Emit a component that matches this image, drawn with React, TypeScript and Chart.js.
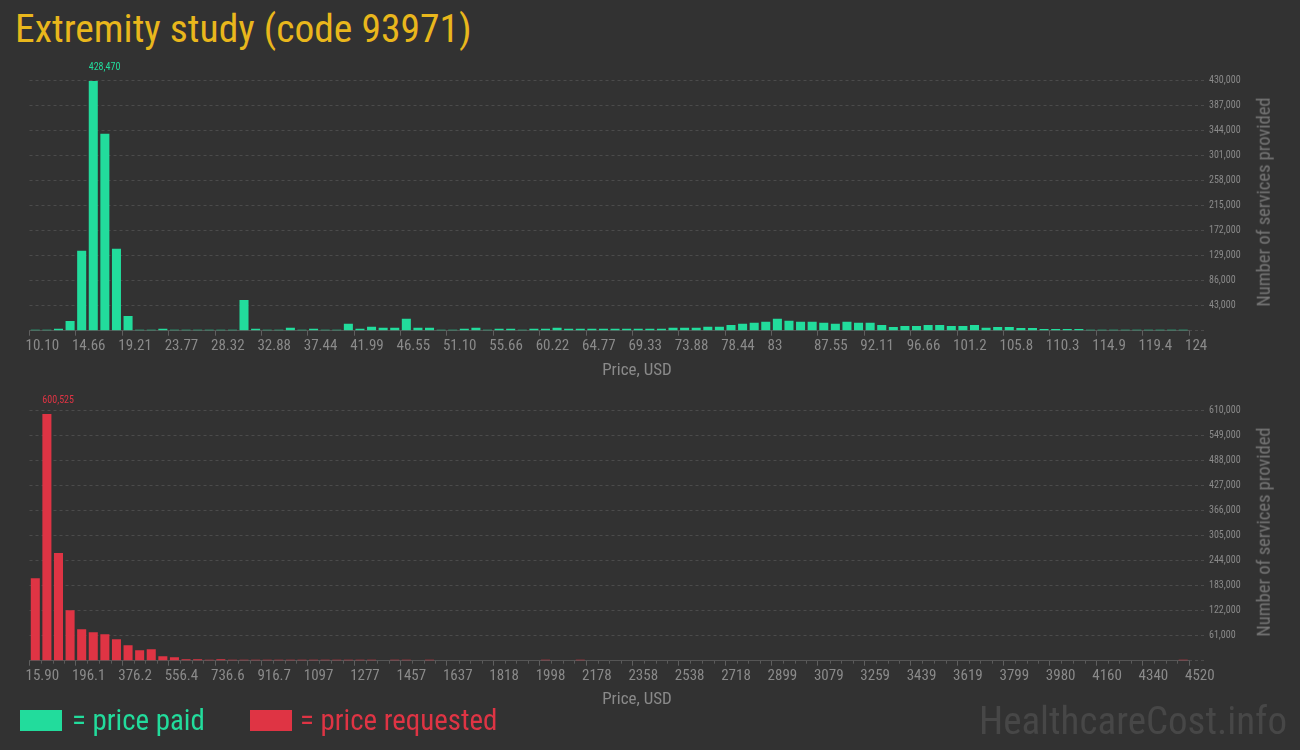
import React, { useEffect, useRef } from 'react';
import { Chart, registerables } from 'chart.js';

Chart.register(...registerables);

// ---------- DATA ----------
const paidTickLabels = [
  '10.10', '14.66', '19.21', '23.77', '28.32', '32.88', '37.44', '41.99', '46.55',
  '51.10', '55.66', '60.22', '64.77', '69.33', '73.88', '78.44', '83', '87.55',
  '92.11', '96.66', '101.2', '105.8', '110.3', '114.9', '119.4', '124',
];

const paidCounts = [
  1700, 1700, 3400, 16700, 137000, 428470, 338000, 140500, 25200, 1700,
  1700, 3400, 1700, 1700, 1700, 1700, 1700, 1700, 52800, 3400,
  1700, 1700, 5200, 1700, 3400, 1700, 1700, 12000, 3400, 6900,
  5200, 5200, 20600, 5200, 5200, 1700, 1700, 3400, 5200, 1700,
  3400, 3400, 1700, 3400, 3400, 5200, 3400, 3400, 3400, 3400,
  3400, 3400, 3400, 3400, 3400, 5200, 5200, 5200, 6900, 6900,
  9700, 12000, 13800, 15500, 20600, 17200, 15500, 15500, 13800, 12000,
  15500, 13800, 13800, 9700, 6300, 8000, 8000, 9700, 9700, 8000,
  8000, 9700, 5200, 6300, 6300, 4600, 4600, 2900, 2900, 2900,
  2900, 1700, 1700, 1700, 1700, 1700, 1700, 1700, 1700, 1700,
];

const requestedTickLabels = [
  '15.90', '196.1', '376.2', '556.4', '736.6', '916.7', '1097', '1277', '1457',
  '1637', '1818', '1998', '2178', '2358', '2538', '2718', '2899', '3079',
  '3259', '3439', '3619', '3799', '3980', '4160', '4340', '4520',
];

const requestedCounts = [
  200900, 600525, 261900, 122800, 76500, 69100, 64200, 52000, 37400, 25200,
  27700, 10600, 8100, 3300, 3300, 2400, 3300, 2400, 2400, 2400,
  2400, 2400, 2400, 2400, 2400, 2400, 2400, 2400, 2400, 2400,
  0, 2400, 2400, 0, 2400, 0, 0, 0, 0, 0,
  0, 0, 0, 0, 2400, 0, 0, 2400, 0, 0,
  0, 0, 0, 0, 0, 0, 0, 0, 0, 0,
  0, 0, 0, 0, 0, 0, 0, 0, 0, 0,
  0, 0, 0, 0, 0, 0, 0, 0, 0, 0,
  0, 0, 0, 0, 0, 0, 0, 0, 0, 0,
  0, 0, 0, 0, 0, 0, 0, 0, 0, 2400,
];

const paidYMax = 430000;
const paidYStep = 43000;
const requestedYMax = 610000;
const requestedYStep = 61000;

const titleText = 'Extremity study (code 93971)';
const xTitleText = 'Price, USD';
const yTitleText = 'Number of services provided';
const legendPaid = '= price paid';
const legendRequested = '= price requested';
const watermarkText = 'HealthcareCost.info';

// ---------- STYLE ----------
const BG = '#323232';
const GREEN = '#22dc9c';
const RED = '#df3444';
const GRID = '#4b4b4b';
const TEXT_GREY = '#8a8a8a';
const COND = "'Roboto Condensed', 'Liberation Sans Narrow', 'DejaVu Sans Condensed', 'Open Sans', sans-serif";

const TICKS_PER_LABEL = 4;

const fmt = (v: number) => v.toLocaleString('en-US');

const maxLabelPlugin = {
  id: 'maxLabel',
  afterDatasetsDraw(chart: any, _args: any, opts: any) {
    const ds = chart.data.datasets[0];
    const values = ds.data.map((d: any) => d.y);
    let mi = 0;
    values.forEach((v: number, i: number) => { if (v > values[mi]) mi = i; });
    const meta = chart.getDatasetMeta(0);
    const bar = meta.data[mi];
    if (!bar) return;
    const { ctx } = chart;
    ctx.save();
    ctx.font = `10px ${COND}`;
    ctx.fillStyle = opts.color;
    ctx.textAlign = 'left';
    ctx.textBaseline = 'middle';
    ctx.fillText(fmt(values[mi]), bar.x - bar.width / 2, bar.y - 13);
    ctx.restore();
  },
};

const minorTickPlugin = {
  id: 'minorTicks',
  afterDraw(chart: any, _args: any, opts: any) {
    if (!opts.enabled) return;
    const xs = chart.scales.x;
    const { ctx } = chart;
    const y0 = chart.chartArea.bottom;
    ctx.save();
    ctx.strokeStyle = '#5a5a5a';
    ctx.lineWidth = 1;
    ctx.beginPath();
    for (let i = Math.ceil(xs.min); i <= xs.max; i++) {
      if (i % TICKS_PER_LABEL === 0) continue;
      const px = Math.round(xs.getPixelForValue(i)) + 0.5;
      ctx.moveTo(px, y0);
      ctx.lineTo(px, y0 + 3);
    }
    ctx.stroke();
    ctx.restore();
  },
};

type PanelProps = {
  counts: number[];
  tickLabels: string[];
  yMax: number;
  yStep: number;
  color: string;
  top: number;
  height: number;
  minor: boolean;
};

const WIDTH = 1300;
const PLOT_LEFT = 29.5;
const PLOT_RIGHT = 1189;

function Panel({ counts, tickLabels, yMax, yStep, color, top, height, minor }: PanelProps) {
  const ref = useRef<HTMLCanvasElement | null>(null);
  useEffect(() => {
    if (!ref.current) return;
    const nBars = counts.length;
    const chart = new Chart(ref.current, {
      type: 'bar',
      data: {
        datasets: [
          {
            data: counts.map((v, i) => ({ x: i + 0.5, y: v })),
            backgroundColor: color,
            borderWidth: 0,
            categoryPercentage: 1,
            barPercentage: 0.78,
          },
        ],
      },
      options: {
        responsive: false,
        animation: false,
        events: [],
        layout: { padding: { left: PLOT_LEFT, right: 0, top: 25, bottom: 0 } },
        plugins: {
          legend: { display: false },
          tooltip: { enabled: false },
          maxLabel: { color },
          minorTicks: { enabled: minor },
        } as any,
        scales: {
          x: {
            type: 'linear',
            min: 0,
            max: nBars,
            offset: false,
            grid: {
              offset: false,
              drawOnChartArea: false,
              drawTicks: true,
              tickLength: 5,
              tickColor: '#5f5f5f',
            },
            border: { display: true, color: '#555555', width: 1 },
            ticks: {
              stepSize: TICKS_PER_LABEL,
              autoSkip: false,
              maxRotation: 0,
              minRotation: 0,
              align: 'start',
              labelOffset: -4,
              padding: 2,
              color: TEXT_GREY,
              font: { family: COND, size: 15 },
              callback: (v: any) => tickLabels[Math.round(Number(v) / TICKS_PER_LABEL)] ?? '',
            },
            title: { display: false },
            afterFit: (s: any) => { s.height = 49.3; },
          } as any,
          y: {
            type: 'linear',
            position: 'right',
            min: 0,
            max: yMax,
            grid: {
              color: GRID,
              lineWidth: 1,
              drawTicks: true,
              tickLength: 17,
              tickColor: GRID,
              tickBorderDash: [3, 3],
            },
            border: { display: false, dash: [3, 3] },
            ticks: {
              stepSize: yStep,
              padding: 3,
              color: TEXT_GREY,
              font: { family: COND, size: 10 },
              callback: (v: any) => (Number(v) === 0 ? '' : fmt(Number(v))),
            },
            afterFit: (s: any) => { s.width = WIDTH - PLOT_RIGHT; },
          } as any,
        },
      },
      plugins: [maxLabelPlugin, minorTickPlugin],
    });
    return () => chart.destroy();
  }, []);
  return (
    <canvas
      ref={ref}
      width={WIDTH}
      height={height}
      style={{ position: 'absolute', left: 0, top, width: WIDTH, height }}
    />
  );
}

function YTitle({ centerY }: { centerY: number }) {
  return (
    <div
      style={{
        position: 'absolute',
        left: 1264,
        top: centerY,
        transform: 'translate(-50%, -50%) rotate(-90deg)',
        whiteSpace: 'nowrap',
        fontFamily: COND,
        fontSize: 18.5,
        lineHeight: 1,
        color: '#777777',
      }}
    >
      {yTitleText}
    </div>
  );
}

function XTitle({ centerY }: { centerY: number }) {
  return (
    <div
      style={{
        position: 'absolute',
        left: 637,
        top: centerY,
        transform: 'translate(-50%, -50%)',
        whiteSpace: 'nowrap',
        fontFamily: COND,
        fontSize: 17,
        lineHeight: 1,
        color: TEXT_GREY,
      }}
    >
      {xTitleText}
    </div>
  );
}

export default function App() {
  useEffect(() => {
    document.body.style.margin = '0';
    document.body.style.background = BG;
  }, []);
  return (
    <div
      style={{
        position: 'absolute',
        left: 0,
        top: 0,
        width: 1300,
        height: 750,
        background: BG,
        overflow: 'hidden',
        fontFamily: COND,
      }}
    >
      <div
        style={{
          position: 'absolute',
          left: 15,
          top: 9,
          fontSize: 39.5,
          lineHeight: 1,
          color: '#e9b71c',
          whiteSpace: 'nowrap',
        }}
      >
        {titleText}
      </div>
      <Panel counts={paidCounts} tickLabels={paidTickLabels} yMax={paidYMax} yStep={paidYStep}
        color={GREEN} top={55} height={325} minor={false} />
      <YTitle centerY={201.5} />
      <XTitle centerY={369} />
      <Panel counts={requestedCounts} tickLabels={requestedTickLabels} yMax={requestedYMax}
        yStep={requestedYStep} color={RED} top={385.3} height={325} minor={true} />
      <YTitle centerY={531.5} />
      <XTitle centerY={698} />
      <div style={{ position: 'absolute', left: 20, top: 710, width: 42, height: 21, background: GREEN }} />
      <div style={{ position: 'absolute', left: 72, top: 703, fontSize: 28.9, lineHeight: 1.2, color: GREEN, whiteSpace: 'nowrap' }}>
        {legendPaid}
      </div>
      <div style={{ position: 'absolute', left: 250, top: 710, width: 42, height: 21, background: RED }} />
      <div style={{ position: 'absolute', left: 300, top: 703, fontSize: 28.9, lineHeight: 1.2, color: RED, whiteSpace: 'nowrap' }}>
        {legendRequested}
      </div>
      <div style={{ position: 'absolute', right: 13, top: 698, fontSize: 39, lineHeight: 1.2, color: '#474747', whiteSpace: 'nowrap' }}>
        {watermarkText}
      </div>
    </div>
  );
}
